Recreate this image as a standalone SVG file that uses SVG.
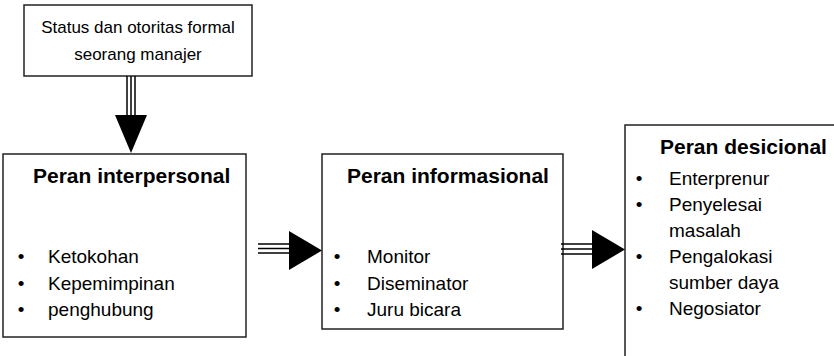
<svg xmlns="http://www.w3.org/2000/svg" width="834" height="356" viewBox="0 0 834 356">
<style>
  .box { fill: #ffffff; stroke: #222222; stroke-width: 1.5; }
  .t { font-family: "Liberation Sans", Arial, sans-serif; fill: #000000; }
  .title { font-size: 21px; font-weight: bold; }
  .item { font-size: 19px; }
  .top { font-size: 17px; text-anchor: middle; }
  .bul { font-size: 19px; text-anchor: middle; }
  .ln { stroke: #000000; stroke-width: 1.5; fill: none; }
  .head { fill: #000000; stroke: none; }
</style>
<rect width="834" height="356" fill="#ffffff"/>

<g id="node-status">
  <rect class="box" x="24" y="5" width="228" height="71"/>
  <text class="t top" x="138" y="33">Status dan otoritas formal</text>
  <text class="t top" x="138" y="60">seorang manajer</text>
</g>

<g id="node-interpersonal">
  <rect class="box" x="3" y="154" width="243" height="183"/>
  <text class="t title" x="33" y="183">Peran interpersonal</text>
  <text class="t bul" x="21" y="263">•</text>
  <text class="t item" x="48" y="263">Ketokohan</text>
  <text class="t bul" x="21" y="290">•</text>
  <text class="t item" x="48" y="290">Kepemimpinan</text>
  <text class="t bul" x="21" y="316">•</text>
  <text class="t item" x="48" y="316">penghubung</text>
</g>

<g id="node-informasional">
  <rect class="box" x="322" y="154" width="241" height="175"/>
  <text class="t title" x="347" y="183">Peran informasional</text>
  <text class="t bul" x="337" y="263">•</text>
  <text class="t item" x="367" y="263">Monitor</text>
  <text class="t bul" x="337" y="290">•</text>
  <text class="t item" x="367" y="290">Diseminator</text>
  <text class="t bul" x="337" y="316">•</text>
  <text class="t item" x="367" y="316">Juru bicara</text>
</g>

<g id="node-desicional">
  <rect class="box" x="625" y="125" width="230" height="260"/>
  <text class="t title" x="660" y="154">Peran desicional</text>
  <text class="t bul" x="639" y="185">•</text>
  <text class="t item" x="669" y="185">Enterprenur</text>
  <text class="t bul" x="639" y="211">•</text>
  <text class="t item" x="669" y="211">Penyelesai</text>
  <text class="t item" x="669" y="237">masalah</text>
  <text class="t bul" x="639" y="263">•</text>
  <text class="t item" x="669" y="263">Pengalokasi</text>
  <text class="t item" x="669" y="289">sumber daya</text>
  <text class="t bul" x="639" y="315">•</text>
  <text class="t item" x="669" y="315">Negosiator</text>
</g>

<g id="connectors">
  <g id="arrow-down">
    <line class="ln" x1="127" y1="76" x2="127" y2="116"/>
    <line class="ln" x1="131" y1="76" x2="131" y2="116"/>
    <line class="ln" x1="135" y1="76" x2="135" y2="116"/>
    <polygon class="head" points="115,115 147,115 131,153"/>
  </g>
  <g id="arrow-1">
    <line class="ln" x1="258" y1="244" x2="290" y2="244"/>
    <line class="ln" x1="258" y1="248.5" x2="290" y2="248.5"/>
    <line class="ln" x1="258" y1="253" x2="290" y2="253"/>
    <polygon class="head" points="289,231 289,270 322,250.5"/>
  </g>
  <g id="arrow-2">
    <line class="ln" x1="561" y1="244" x2="593" y2="244"/>
    <line class="ln" x1="561" y1="249" x2="593" y2="249"/>
    <line class="ln" x1="561" y1="254" x2="593" y2="254"/>
    <polygon class="head" points="592,230 592,269 625,249.5"/>
  </g>
</g>
</svg>
